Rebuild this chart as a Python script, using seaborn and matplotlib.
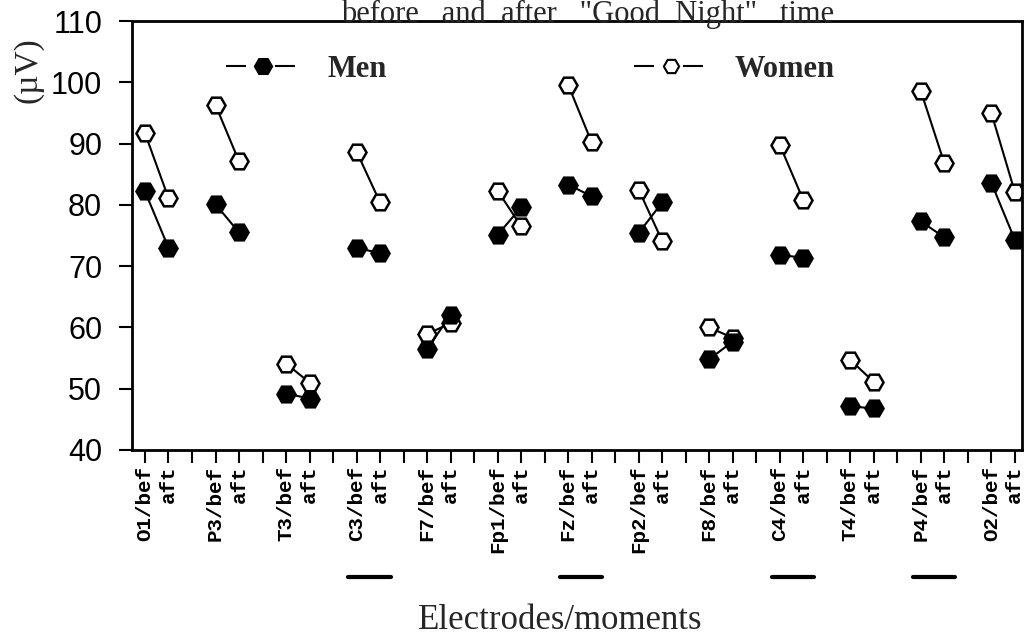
import numpy as np
import pandas as pd
import matplotlib
matplotlib.use("Agg")
import matplotlib.pyplot as plt
import matplotlib.transforms as mtransforms
from matplotlib.lines import Line2D
import seaborn as sns

electrodes = ["O1", "P3", "T3", "C3", "F7", "Fp1", "Fz", "Fp2", "F8", "C4", "T4", "P4", "O2"]
men_before = [82.2, 80.1, 49.2, 73.0, 56.5, 75.1, 83.3, 75.4, 54.8, 71.8, 47.1, 77.3, 83.6]
men_after = [73.0, 75.5, 48.4, 72.1, 62.0, 79.6, 81.4, 80.4, 57.7, 71.4, 46.8, 74.7, 74.3]
women_before = [91.7, 96.3, 54.1, 88.7, 58.9, 82.3, 99.6, 82.5, 60.0, 89.8, 54.7, 98.6, 95.0]
women_after = [81.1, 87.1, 51.0, 80.4, 60.7, 76.5, 90.2, 74.1, 58.3, 80.8, 51.1, 86.8, 82.1]
significant = ["C3", "Fz", "C4", "P4"]

# long table: 3 slots per electrode (bef, aft, blank)
rows = []
for i, e in enumerate(electrodes):
    rows.append(("Men", e, 3 * i, men_before[i]))
    rows.append(("Men", e, 3 * i + 1, men_after[i]))
    rows.append(("Women", e, 3 * i, women_before[i]))
    rows.append(("Women", e, 3 * i + 1, women_after[i]))
df = pd.DataFrame(rows, columns=["sex", "electrode", "pos", "uV"])

sns.set_theme(style="ticks")
plt.rcParams["font.family"] = ["Liberation Serif", "DejaVu Serif"]

fig = plt.figure(figsize=(10.26, 6.37), dpi=100)
ax = fig.add_axes([0.1287, 0.2936, 0.8673, 0.6734])

line_kw = dict(color="black", linewidth=1.5, marker="H", markersize=13,
               markeredgecolor="black", markeredgewidth=1.8)
sns.lineplot(data=df[df.sex == "Women"], x="pos", y="uV", units="electrode",
             estimator=None, markerfacecolor="white", ax=ax, **line_kw)
sns.lineplot(data=df[df.sex == "Men"], x="pos", y="uV", units="electrode",
             estimator=None, markerfacecolor="black", ax=ax, **line_kw)

n_slots = 3 * len(electrodes) - 1
ax.set_xlim(-0.55, n_slots - 1 + 0.3)
ax.set_ylim(40, 110)
ax.set_yticks(range(40, 111, 10))
ax.set_yticklabels([str(v) for v in range(40, 111, 10)], fontfamily="Liberation Sans", fontsize=22)

labels = []
for e in electrodes:
    labels += [f"{e}/bef", "aft", ""]
ax.set_xticks(range(n_slots))
ax.set_xticklabels(labels[:n_slots], rotation=90, fontfamily="Liberation Mono",
                   fontweight="bold", fontsize=15, va="top")
ax.tick_params(axis="both", direction="out", length=9.5, width=1.5, colors="black")
ax.tick_params(axis="x", pad=2)
ax.tick_params(axis="y", pad=12)
for sp in ax.spines.values():
    sp.set_linewidth(2)
    sp.set_color("black")

ax.set_xlabel("Electrodes/moments", fontsize=25, labelpad=0)
ax.xaxis.set_label_coords(0.481, -0.36)
ax.set_ylabel("(µV)", fontsize=24)
ax.yaxis.set_label_coords(-0.10, 0.885)

# bars under significant electrodes
trans = mtransforms.blended_transform_factory(ax.transData, fig.transFigure)
for e in significant:
    i = electrodes.index(e)
    ax.plot([3 * i - 0.35, 3 * i + 1.45], [0.094, 0.094], color="black", linewidth=3,
            transform=trans, clip_on=False)

handles = [
    Line2D([], [], color="black", linewidth=1.5, dashes=(9.6, 13.9), marker="H", markersize=13,
           markerfacecolor="black", markeredgecolor="black"),
    Line2D([], [], color="black", linewidth=1.5, dashes=(9.6, 13.9), marker="H", markersize=11,
           markerfacecolor="white", markeredgecolor="black", markeredgewidth=1.5),
]
ax.legend(handles, ["Men", "Women"], ncol=2, frameon=False, loc="upper left",
          bbox_to_anchor=(0.075, 0.985), handlelength=2.4, handletextpad=0.9,
          columnspacing=8.1, prop={"family": "Liberation Serif", "weight": "bold", "size": 22})

fig.text(0.573, 0.966, 'before   and  after   "Good  Night"   time', ha="center", va="baseline",
         fontsize=22)

fig.savefig("out.png", dpi=100)
